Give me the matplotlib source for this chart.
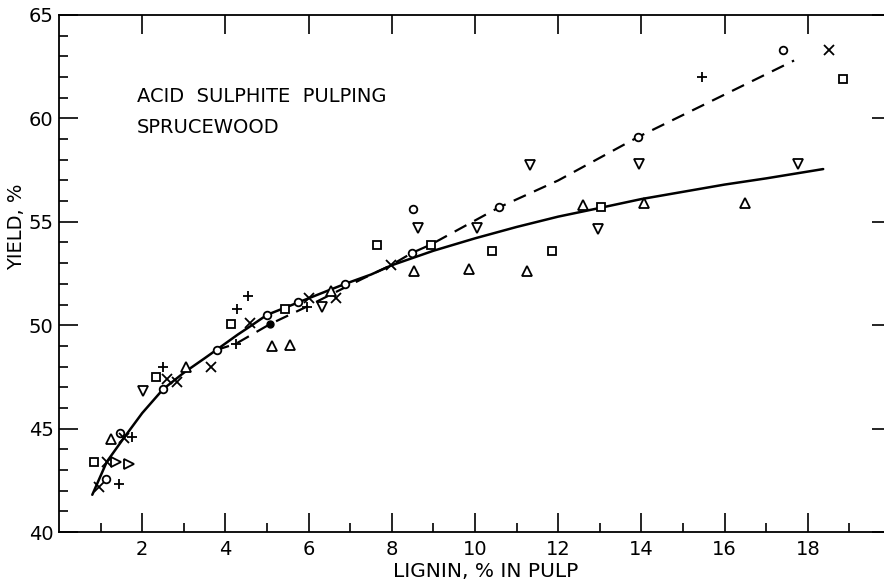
import numpy as np
import matplotlib
matplotlib.use("Agg")
import matplotlib.pyplot as plt

plt.rcParams['font.family'] = ['DejaVu Sans']

# measured points, grouped by symbol
circ_x = [17.4, 8.51, 8.49, 10.58, 13.92, 5.0, 5.75, 6.88, 3.8, 2.5, 1.47, 1.13]
circ_y = [63.3, 55.6, 53.5, 55.7, 59.1, 50.5, 51.1, 52.0, 48.8, 46.9, 44.8, 42.55]

cross_x = [18.5, 7.98, 4.59, 6.01, 6.66, 3.65, 2.6, 2.84, 1.56, 1.15, 0.96]
cross_y = [63.3, 52.9, 50.1, 51.3, 51.3, 48.0, 47.4, 47.25, 44.55, 43.4, 42.2]

plus_x = [15.45, 4.28, 4.55, 5.96, 4.25, 2.5, 1.75, 1.44]
plus_y = [62.0, 50.8, 51.4, 50.9, 49.1, 48.0, 44.6, 42.3]

sq_x = [18.85, 7.64, 8.94, 10.41, 11.85, 13.03, 4.13, 5.43, 2.33, 0.84]
sq_y = [61.9, 53.9, 53.9, 53.6, 53.6, 55.7, 50.05, 50.8, 47.5, 43.4]

tri_x = [16.5, 14.06, 8.53, 9.86, 11.25, 12.6, 6.54, 5.12, 5.55, 3.05, 1.25]
tri_y = [55.9, 55.9, 52.6, 52.7, 52.6, 55.8, 51.65, 49.0, 49.05, 48.0, 44.5]

tdown_x = [17.77, 8.63, 10.05, 11.32, 12.96, 13.94, 6.32, 2.02]
tdown_y = [57.8, 54.7, 54.7, 57.75, 54.65, 57.8, 50.9, 46.8]

tright_x = [1.37, 1.68]
tright_y = [43.4, 43.3]

dot_x = [5.07]
dot_y = [50.05]

# fitted curves
solid_x = [0.8, 1.15, 1.56, 2.0, 2.5, 3.0, 3.5, 3.78, 4.3, 4.6, 5.0, 5.75, 6.5,
           6.88, 7.5, 8.0, 9.0, 10.0, 11.0, 12.0, 13.0, 14.0, 15.0, 16.0, 17.0, 18.37]
solid_y = [41.8, 43.4, 44.55, 45.75, 46.9, 47.7, 48.4, 48.8, 49.55, 49.95, 50.5, 51.1, 51.7,
           52.0, 52.45, 52.9, 53.6, 54.2, 54.75, 55.25, 55.67, 56.1, 56.45, 56.8, 57.1, 57.55]

dash_x = [3.78, 4.25, 5.07, 5.96, 6.6, 7.3, 7.98, 8.49, 8.94, 10.58, 12.0, 13.92, 17.67]
dash_y = [48.8, 49.1, 50.05, 50.9, 51.55, 52.25, 52.9, 53.5, 53.9, 55.7, 57.0, 59.1, 62.8]

fig = plt.figure(figsize=(8.84, 5.85), dpi=100)
ax = fig.add_axes([59 / 884, 53 / 585, 832 / 884, 517 / 585])

ax.plot(solid_x, solid_y, color='black', lw=1.8, solid_capstyle='round')
ax.plot(dash_x, dash_y, color='black', lw=1.6, dashes=(6, 4))

mk = dict(linestyle='none', color='black', mfc='white', mec='black', mew=1.3, ms=5.5)
ax.plot(circ_x, circ_y, marker='o', **mk)
ax.plot(cross_x, cross_y, marker='x', **{**mk, 'ms': 6.5})
ax.plot(plus_x, plus_y, marker='+', **{**mk, 'ms': 7})
ax.plot(sq_x, sq_y, marker='s', **mk)
ax.plot(tri_x, tri_y, marker='^', **{**mk, 'ms': 6.5})
ax.plot(tdown_x, tdown_y, marker='v', **{**mk, 'ms': 6.5})
ax.plot(tright_x, tright_y, marker='>', **{**mk, 'ms': 6.5})
ax.plot(dot_x, dot_y, marker='o', linestyle='none', color='black', ms=5)

ax.set_xlim(0, 20)
ax.set_ylim(40, 65)
ax.set_xticks(range(2, 20, 2))
ax.set_xticks(range(1, 20), minor=True)
ax.set_yticks(range(40, 66, 5))
ax.set_yticks(range(40, 66), minor=True)

ax.tick_params(which='both', direction='in', top=True, right=True, width=1.2)
ax.tick_params(which='major', length=14, labelsize=14)
ax.tick_params(which='minor', length=6.5, top=False, right=False)
ax.tick_params(axis='y', pad=4)
ax.tick_params(axis='x', pad=6)
for s in ax.spines.values():
    s.set_linewidth(1.3)

ax.set_xlabel("LIGNIN, % IN PULP", fontsize=14.5)
ax.set_ylabel("YIELD, %", fontsize=14)
ax.xaxis.set_label_coords(0.513, -0.058)
ax.yaxis.set_label_coords(-0.04, 0.59)

ax.text(1.875, 61.08, "ACID  SULPHITE  PULPING", fontsize=14, va='center')
ax.text(1.875, 59.58, "SPRUCEWOOD", fontsize=14, va='center')

fig.savefig("out.png", dpi=100)
